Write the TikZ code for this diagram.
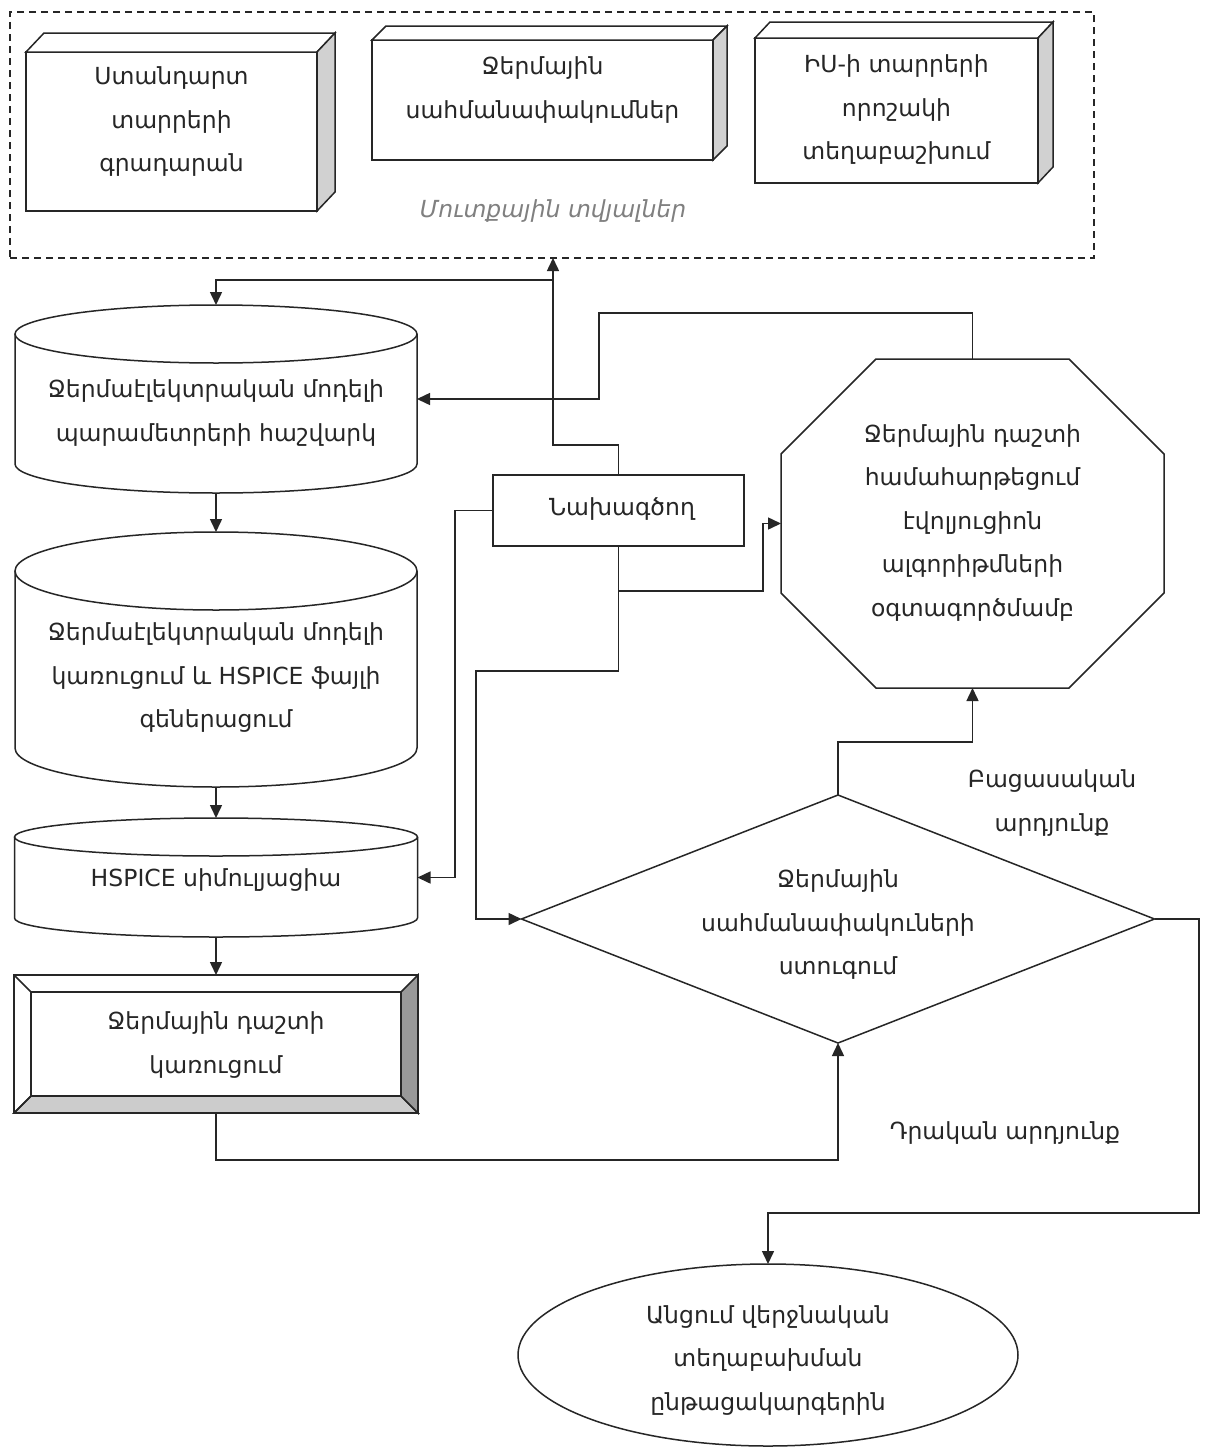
\documentclass[tikz,border=0pt]{standalone}
\usepackage{fontspec}
\setmainfont{DejaVu Sans}
\usetikzlibrary{arrows.meta}

\tikzset{
  ln/.style={line width=1.5pt, draw=black!85},
  arr/.style={ln, -{Triangle[length=13pt,width=12pt]}},
  area/.style 2 args={minimum width=#1, minimum height=#2, inner sep=0pt, outer sep=0pt},
  txt/.style={font=\fontsize{23.5}{43.5}\selectfont, align=center, inner sep=0pt, text=black!85},
  caption/.style={txt, font=\fontsize{23.5}{43.5}\selectfont\itshape, text=black!50},
}

% raised block: front face is the node, top and right faces drawn behind it
\newcommand\solidbox[3]{%
  \filldraw[ln, fill=white] (#1.north west) -- ++(#2,-#3)
    -- ([shift={(#2,-#3)}]#1.north east) -- (#1.north east) -- cycle;
  \filldraw[ln, fill=black!18] (#1.north east) -- ++(#2,-#3)
    -- ([shift={(#2,-#3)}]#1.south east) -- (#1.south east) -- cycle;
}
% upright drum: name, half width, half height of the end ellipses
\newcommand\drum[3]{%
  \draw[ln] ([shift={(0,#3)}]#1.north west) -- ([shift={(0,-#3)}]#1.south west)
    arc[start angle=180, end angle=0, x radius=#2, y radius=#3]
    -- ([shift={(0,#3)}]#1.north east);
  \draw[ln] ([shift={(0,#3)}]#1.north) ellipse[x radius=#2, y radius=#3];
}

\begin{document}
\begin{tikzpicture}[x=1pt, y=-1pt]
\useasboundingbox[fill=white] (0,0) rectangle (1209,1448);

% ---- input data group ----
\node[area={1084}{246}, draw, ln, dashed, dash pattern=on 7pt off 5pt] (inputs) at (552,135) {};

\node[area={291}{159}, draw, ln] (lib) at (171.5,131.5) {};
\solidbox{lib}{18}{19}
\node[txt] (libtxt) at (171.5,122) {Ստանդարտ\\տարրերի\\գրադարան};

\node[area={341}{120}, draw, ln] (limits) at (542.5,100) {};
\solidbox{limits}{14}{14}
\node[txt] (limitstxt) at (542.5,90) {Ջերմային\\սահմանափակումներ};

\node[area={283}{145}, draw, ln] (place) at (896.5,110.5) {};
\solidbox{place}{15}{16}
\node[txt] (placetxt) at (896.5,110) {ԻՍ-ի տարրերի\\որոշակի\\տեղաբաշխում};

\node[caption] (inputstxt) at (553,211) {Մուտքային տվյալներ};

% ---- left column ----
\node[area={402}{188}] (cyl1) at (216,399) {};
\drum{cyl1}{201}{29}
\node[txt] (cyl1txt) at (216,413) {Ջերմաէլեկտրական մոդելի\\պարամետրերի հաշվարկ};

\node[area={402}{255}] (cyl2) at (216,659.5) {};
\drum{cyl2}{201}{39}
\node[txt] (cyl2txt) at (216,678) {Ջերմաէլեկտրական մոդելի\\կառուցում և HSPICE ֆայլի\\գեներացում};

\node[area={403}{119}] (cyl3) at (216,877.5) {};
\drum{cyl3}{201.5}{19}
\node[txt] (cyl3txt) at (216,880) {HSPICE սիմուլյացիա};

\node[area={404}{138}] (field) at (216,1044) {};
\filldraw[ln, fill=black!20] (field.south west) -- (field.south east)
  -- ([shift={(-17,-17)}]field.south east) -- ([shift={(17,-17)}]field.south west) -- cycle;
\filldraw[ln, fill=black!40] (field.north east) -- (field.south east)
  -- ([shift={(-17,-17)}]field.south east) -- ([shift={(-17,17)}]field.north east) -- cycle;
\draw[ln] (field.north west) -- ([shift={(17,17)}]field.north west);
\draw[ln] (field.south west) -- ([shift={(17,-17)}]field.south west);
\draw[ln] (field.north west) rectangle (field.south east);
\draw[ln] ([shift={(17,17)}]field.north west) rectangle ([shift={(-17,-17)}]field.south east);
\node[txt] (fieldtxt) at (216,1045) {Ջերմային դաշտի\\կառուցում};

% ---- designer ----
\node[area={251}{71}, draw, ln] (designer) at (618.5,510.5) {};
\node[txt] (designertxt) at (622,509) {Նախագծող};

% ---- optimisation octagon ----
\node[area={383}{329}] (evo) at (972.5,523.5) {};
\draw[ln] ([shift={(95,0)}]evo.north west) -- ([shift={(-95,0)}]evo.north east)
  -- ([shift={(0,95)}]evo.north east) -- ([shift={(0,-95)}]evo.south east)
  -- ([shift={(-95,0)}]evo.south east) -- ([shift={(95,0)}]evo.south west)
  -- ([shift={(0,-95)}]evo.south west) -- ([shift={(0,95)}]evo.north west) -- cycle;
\node[txt] (evotxt) at (972.5,523) {Ջերմային դաշտի\\համահարթեցում\\էվոլյուցիոն\\ալգորիթմների\\օգտագործմամբ};

% ---- decision ----
\node[area={633}{248}] (check) at (838,919) {};
\draw[ln] (check.north) -- (check.east) -- (check.south) -- (check.west) -- cycle;
\node[txt] (checktxt) at (838,925) {Ջերմային\\սահմանափակուների\\ստուգում};

\node[txt] (negtxt) at (1052,803) {Բացասական\\արդյունք};
\node[txt] (postxt) at (1005,1133) {Դրական արդյունք};

% ---- final step ----
\node[area={500}{182}] (final) at (768,1355) {};
\draw[ln] (final.center) ellipse[x radius=250, y radius=91];
\node[txt] (finaltxt) at (768,1360) {Անցում վերջնական\\տեղաբախման\\ընթացակարգերին};

% ---- connectors ----
\coordinate (j1) at (553,445);
\coordinate (j2) at (553,280);
\coordinate (k1) at (599,313);
\coordinate (k2) at (455,600);
\coordinate (k3) at (763,591);
\coordinate (k4) at (476,671);
\coordinate (k5) at (972.5,742);
\coordinate (k6) at (838,1160);
\coordinate (k7) at (1199,919);
\coordinate (k8) at (768,1213);

\draw[arr] (designer.north) |- (j1) -- (inputs.south -| j1);
\draw[arr] (j2) -| (cyl1.north);
\draw[arr] (cyl1.south) -- (cyl2.north);
\draw[arr] (cyl2.south) -- (cyl3.north);
\draw[arr] (cyl3.south) -- (field.north);
\draw[arr] (evo.north) |- (k1) |- (cyl1.east);
\draw[arr] (designer.west) -| (k2) |- (cyl3.east);
\draw[arr] (designer.south) |- (k3) |- (evo.west);
\draw[arr] (designer.south) |- (k4) |- (check.west);
\draw[arr] (check.north) |- (k5) -- (evo.south);
\draw[arr] (field.south) |- (k6) -- (check.south);
\draw[arr] (check.east) -- (k7) |- (k8) -- (final.north);
\end{tikzpicture}
\end{document}
